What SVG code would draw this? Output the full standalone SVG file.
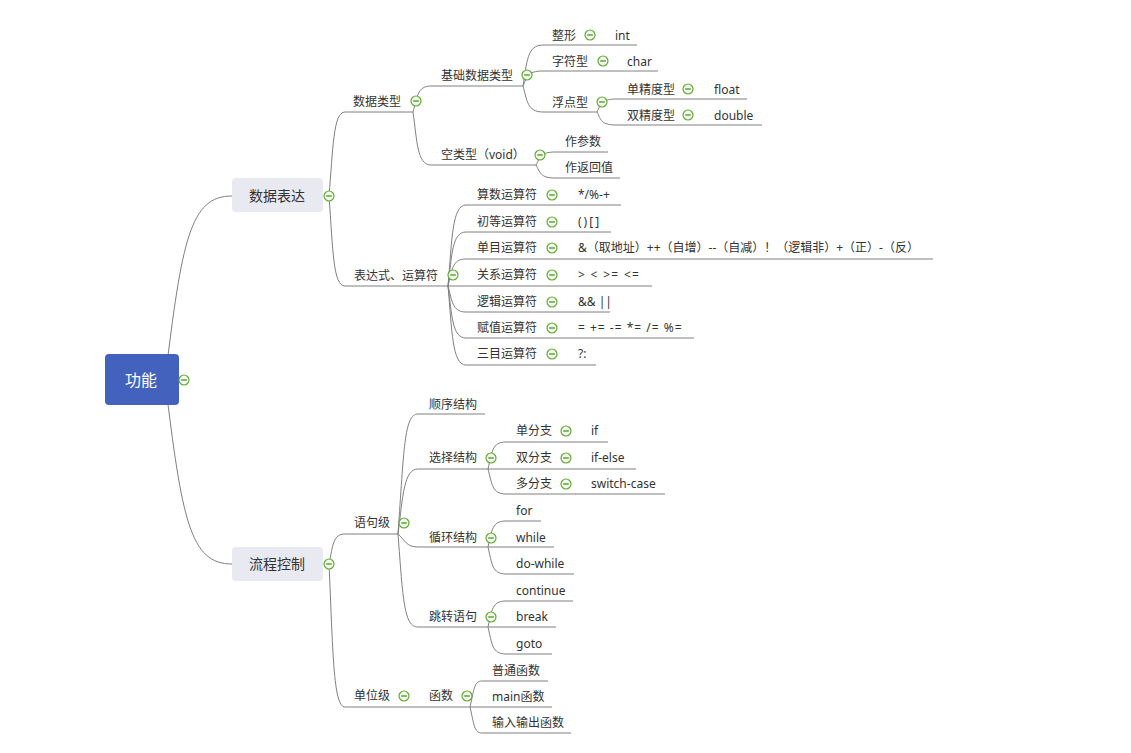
<svg xmlns="http://www.w3.org/2000/svg" xmlns:xlink="http://www.w3.org/1999/xlink" width="1131" height="753" viewBox="0 0 1131 753">
<style>
.t{font-family:"Noto Sans","Noto Sans CJK SC",sans-serif;font-size:12px;fill:#333}
.b{font-family:"Noto Sans","Noto Sans CJK SC",sans-serif;font-size:14px;fill:#333;text-anchor:middle}
.r{font-family:"Noto Sans","Noto Sans CJK SC",sans-serif;font-size:16px;fill:#fff;text-anchor:middle}
.ln{fill:none;stroke:#808080;stroke-width:1}
.u{fill:none;stroke:#808080;stroke-width:1}
</style>
<defs>
<g id="col"><circle r="5" fill="#f2f9ec" stroke="#63ab36" stroke-width="1.2"/><line x1="-2.8" y1="0" x2="2.8" y2="0" stroke="#3d8a1c" stroke-width="1.2"/></g>
</defs>
<rect width="1131" height="753" fill="#fff"/>
<g id="connectors">
<path class="ln" d="M165 380 C182 240 190 196 232 196"/>
<path class="ln" d="M165 380 C182 520 190 564 232 564"/>
<path class="ln" d="M329 196 C333 150 333 112 345 112"/>
<path class="ln" d="M329 196 C333 250 333 286 345 286"/>
<path class="ln" d="M413 112 C417 98 417 86 431 86"/>
<path class="ln" d="M413 112 C417 140 417 165 431 165"/>
<path class="ln" d="M523 86 C527 62 527 45 543 45"/>
<path class="ln" d="M523 86 C527 77 527 71 543 71"/>
<path class="ln" d="M523 86 C527 100 527 112 543 112"/>
<path class="ln" d="M597 112 C601 104 601 99 617 99"/>
<path class="ln" d="M597 112 C601 120 601 125 617 125"/>
<path class="ln" d="M536 165 C540 158 540 152 555 152"/>
<path class="ln" d="M536 165 C540 172 540 178 555 178"/>
<path class="ln" d="M448 286 C452 240 452 205 466 205"/>
<path class="ln" d="M448 286 C452 255 452 232 466 232"/>
<path class="ln" d="M448 286 C452 270 452 259 466 259"/>
<path class="ln" d="M448 286 L466 286"/>
<path class="ln" d="M448 286 C452 300 452 312 466 312"/>
<path class="ln" d="M448 286 C452 315 452 338 466 338"/>
<path class="ln" d="M448 286 C452 330 452 365 466 365"/>
<path class="ln" d="M329 564 C333 545 333 534 345 534"/>
<path class="ln" d="M329 564 C333 650 333 707 345 707"/>
<path class="ln" d="M398 534 C404 450 404 414 418 414"/>
<path class="ln" d="M398 534 C403 495 404 469 418 469"/>
<path class="ln" d="M398 534 C405 540 406 547 418 547"/>
<path class="ln" d="M398 534 C403 600 404 627 418 627"/>
<path class="ln" d="M488 469 C492 452 492 442 506 442"/>
<path class="ln" d="M488 469 L506 469"/>
<path class="ln" d="M488 469 C492 484 492 494 506 494"/>
<path class="ln" d="M488 547 C492 530 492 521 506 521"/>
<path class="ln" d="M488 547 L506 547"/>
<path class="ln" d="M488 547 C492 564 492 574 506 574"/>
<path class="ln" d="M488 627 C492 610 492 601 506 601"/>
<path class="ln" d="M488 627 L506 627"/>
<path class="ln" d="M488 627 C492 644 492 654 506 654"/>
<path class="ln" d="M470 707 C474 690 474 681 482 681"/>
<path class="ln" d="M470 707 L482 707"/>
<path class="ln" d="M470 707 C474 724 474 733 482 733"/>
</g>
<g id="root"><rect x="105" y="354" width="74" height="51" rx="4" fill="#4262be"/><text class="r" x="141" y="386">功能</text><use href="#col" x="184" y="380"/></g>
<g id="n-sjbd"><rect x="232" y="178" width="91" height="34" rx="4" fill="#e9e9f2"/><text class="b" x="277" y="201">数据表达</text><use href="#col" x="329" y="196"/></g>
<g id="n-lckz"><rect x="232" y="547" width="91" height="34" rx="4" fill="#e9e9f2"/><text class="b" x="277" y="569">流程控制</text><use href="#col" x="329" y="564"/></g>

<g id="n-sjlx"><text class="t" x="353" y="106">数据类型</text><path class="u" d="M345 112H413"/><use href="#col" x="416" y="101"/></g>
<g id="n-jcsjlx"><text class="t" x="441" y="80">基础数据类型</text><path class="u" d="M431 86H523"/><use href="#col" x="527" y="75"/></g>
<g id="n-zx"><text class="t" x="552" y="40">整形</text><path class="u" d="M543 45H600"/><use href="#col" x="590" y="35"/></g>
<g id="n-int"><text class="t" x="615" y="40">int</text><path class="u" d="M600 45H637"/></g>
<g id="n-zfx"><text class="t" x="552" y="66">字符型</text><path class="u" d="M543 71H613"/><use href="#col" x="603" y="61"/></g>
<g id="n-char"><text class="t" x="627" y="66">char</text><path class="u" d="M613 71H658"/></g>
<g id="n-fdx"><text class="t" x="552" y="107">浮点型</text><path class="u" d="M543 112H597"/><use href="#col" x="602" y="102"/></g>
<g id="n-djd"><text class="t" x="627" y="94">单精度型</text><path class="u" d="M617 99H700"/><use href="#col" x="688" y="89"/></g>
<g id="n-float"><text class="t" x="714" y="94">float</text><path class="u" d="M700 99H747"/></g>
<g id="n-sjd"><text class="t" x="627" y="120">双精度型</text><path class="u" d="M617 125H700"/><use href="#col" x="688" y="115"/></g>
<g id="n-double"><text class="t" x="714" y="120">double</text><path class="u" d="M700 125H762"/></g>
<g id="n-klx"><text class="t" x="441" y="159">空类型（void）</text><path class="u" d="M431 165H536"/><use href="#col" x="540" y="155"/></g>
<g id="n-zcs"><text class="t" x="565" y="146">作参数</text><path class="u" d="M555 152H608"/></g>
<g id="n-zfhz"><text class="t" x="565" y="172">作返回值</text><path class="u" d="M555 178H620"/></g>

<g id="n-bds"><text class="t" x="354" y="280">表达式、运算符</text><path class="u" d="M345 286H448"/><use href="#col" x="453" y="275"/></g>
<g id="n-ss"><text class="t" x="477" y="199">算数运算符</text><path class="u" d="M466 205H565"/><use href="#col" x="552" y="195"/></g>
<g id="v-ss"><text class="t" x="578" y="199">*/%-+</text><path class="u" d="M565 205H621"/></g>
<g id="n-cd"><text class="t" x="477" y="226">初等运算符</text><path class="u" d="M466 232H565"/><use href="#col" x="552" y="222"/></g>
<g id="v-cd"><text class="t" x="578" y="226" letter-spacing="2">()[]</text><path class="u" d="M565 232H611"/></g>
<g id="n-dm"><text class="t" x="477" y="252">单目运算符</text><path class="u" d="M466 259H565"/><use href="#col" x="552" y="248"/></g>
<g id="v-dm"><text class="t" x="578" y="252">&amp;（取地址）++（自增）--（自减）！（逻辑非）+（正）-（反）</text><path class="u" d="M565 259H933"/></g>
<g id="n-gx"><text class="t" x="477" y="279">关系运算符</text><path class="u" d="M466 286H565"/><use href="#col" x="552" y="275"/></g>
<g id="v-gx"><text class="t" x="578" y="279" letter-spacing="1.3">&gt; &lt; &gt;= &lt;=</text><path class="u" d="M565 286H652"/></g>
<g id="n-lj"><text class="t" x="477" y="306">逻辑运算符</text><path class="u" d="M466 312H565"/><use href="#col" x="552" y="302"/></g>
<g id="v-lj"><text class="t" x="578" y="306">&amp;&amp; ||</text><path class="u" d="M565 312H610"/></g>
<g id="n-fz"><text class="t" x="477" y="332">赋值运算符</text><path class="u" d="M466 338H565"/><use href="#col" x="552" y="328"/></g>
<g id="v-fz"><text class="t" x="578" y="332" letter-spacing="1">= += -= *= /= %=</text><path class="u" d="M565 338H694"/></g>
<g id="n-sm"><text class="t" x="477" y="358">三目运算符</text><path class="u" d="M466 365H565"/><use href="#col" x="552" y="354"/></g>
<g id="v-sm"><text class="t" x="578" y="358">?:</text><path class="u" d="M565 365H596"/></g>

<g id="n-yjj"><text class="t" x="354" y="527">语句级</text><path class="u" d="M345 534H398"/><use href="#col" x="404" y="523"/></g>
<g id="n-sxjg"><text class="t" x="429" y="409">顺序结构</text><path class="u" d="M418 414H485"/></g>
<g id="n-xzjg"><text class="t" x="429" y="462">选择结构</text><path class="u" d="M418 469H488"/><use href="#col" x="491" y="458"/></g>
<g id="n-dfz"><text class="t" x="516" y="435">单分支</text><path class="u" d="M506 442H578"/><use href="#col" x="566" y="431"/></g>
<g id="v-if"><text class="t" x="591" y="435">if</text><path class="u" d="M578 442H608"/></g>
<g id="n-sfz"><text class="t" x="516" y="462">双分支</text><path class="u" d="M506 469H578"/><use href="#col" x="566" y="458"/></g>
<g id="v-ifelse"><text class="t" x="591" y="462">if-else</text><path class="u" d="M578 469H636"/></g>
<g id="n-dfz2"><text class="t" x="516" y="488">多分支</text><path class="u" d="M506 494H578"/><use href="#col" x="566" y="484"/></g>
<g id="v-switch"><text class="t" x="591" y="488">switch-case</text><path class="u" d="M578 494H665"/></g>
<g id="n-xhjg"><text class="t" x="429" y="542">循环结构</text><path class="u" d="M418 547H488"/><use href="#col" x="491" y="538"/></g>
<g id="n-for"><text class="t" x="516" y="515">for</text><path class="u" d="M506 521H541"/></g>
<g id="n-while"><text class="t" x="516" y="542">while</text><path class="u" d="M506 547H554"/></g>
<g id="n-dowhile"><text class="t" x="516" y="568">do-while</text><path class="u" d="M506 574H574"/></g>
<g id="n-tzyj"><text class="t" x="429" y="621">跳转语句</text><path class="u" d="M418 627H488"/><use href="#col" x="491" y="617"/></g>
<g id="n-continue"><text class="t" x="516" y="595">continue</text><path class="u" d="M506 601H573"/></g>
<g id="n-break"><text class="t" x="516" y="621">break</text><path class="u" d="M506 627H556"/></g>
<g id="n-goto"><text class="t" x="516" y="648">goto</text><path class="u" d="M506 654H552"/></g>

<g id="n-dwj"><text class="t" x="354" y="700">单位级</text><path class="u" d="M345 707H418"/><use href="#col" x="404" y="696"/></g>
<g id="n-hs"><text class="t" x="429" y="700">函数</text><path class="u" d="M418 707H470"/><use href="#col" x="467" y="696"/></g>
<g id="n-pths"><text class="t" x="492" y="675">普通函数</text><path class="u" d="M482 681H548"/></g>
<g id="n-main"><text class="t" x="492" y="701">main函数</text><path class="u" d="M482 707H552"/></g>
<g id="n-srsc"><text class="t" x="492" y="727">输入输出函数</text><path class="u" d="M482 733H571"/></g>
</svg>
